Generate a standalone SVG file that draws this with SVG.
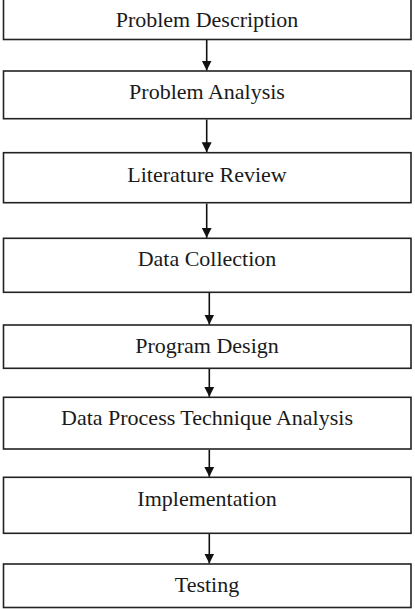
<svg xmlns="http://www.w3.org/2000/svg" width="415" height="609" viewBox="0 0 415 609">
<style>
.box{fill:#fff;stroke:#222;stroke-width:1.6}
.lbl{font-family:"Liberation Serif","Times New Roman",serif;font-size:22px;fill:#1a1a1a;text-anchor:middle}
.con{stroke:#111;stroke-width:1.6;fill:none}
</style>
<defs>
<marker id="ah" viewBox="0 0 10 12" refX="10" refY="6" markerWidth="10" markerHeight="12" markerUnits="userSpaceOnUse" orient="auto">
<path d="M0,1 L10,6 L0,11 Z" fill="#111"/>
</marker>
</defs>
<rect width="415" height="609" fill="#fff"/>
<g id="n1"><rect class="box" x="3.5" y="-2" width="407.5" height="41.5"/><text class="lbl" x="207" y="27">Problem Description</text></g>
<g id="n2"><rect class="box" x="3.5" y="71" width="407.5" height="47.7"/><text class="lbl" x="207" y="99.3">Problem Analysis</text></g>
<g id="n3"><rect class="box" x="3.5" y="152.7" width="407.5" height="50"/><text class="lbl" x="207" y="181.7">Literature Review</text></g>
<g id="n4"><rect class="box" x="3.5" y="238.3" width="407.5" height="54"/><text class="lbl" x="207" y="266">Data Collection</text></g>
<g id="n5"><rect class="box" x="3.5" y="325" width="407.5" height="43.3"/><text class="lbl" x="207" y="353.3">Program Design</text></g>
<g id="n6"><rect class="box" x="3.5" y="397.3" width="407.5" height="51.7"/><text class="lbl" x="207" y="425">Data Process Technique Analysis</text></g>
<g id="n7"><rect class="box" x="3.5" y="477.3" width="407.5" height="56"/><text class="lbl" x="207" y="506">Implementation</text></g>
<g id="n8"><rect class="box" x="3.5" y="564" width="407.5" height="43.5"/><text class="lbl" x="207" y="591.7">Testing</text></g>
<g id="connectors">
<line class="con" x1="206.7" y1="40" x2="206.7" y2="70.5" marker-end="url(#ah)"/>
<line class="con" x1="206.7" y1="119.5" x2="206.7" y2="152.2" marker-end="url(#ah)"/>
<line class="con" x1="206.7" y1="203.5" x2="206.7" y2="237.8" marker-end="url(#ah)"/>
<line class="con" x1="209.3" y1="293" x2="209.3" y2="324.5" marker-end="url(#ah)"/>
<line class="con" x1="209.3" y1="369" x2="209.3" y2="396.8" marker-end="url(#ah)"/>
<line class="con" x1="209.3" y1="449.8" x2="209.3" y2="476.8" marker-end="url(#ah)"/>
<line class="con" x1="209.3" y1="534" x2="209.3" y2="563.5" marker-end="url(#ah)"/>
</g>
</svg>
